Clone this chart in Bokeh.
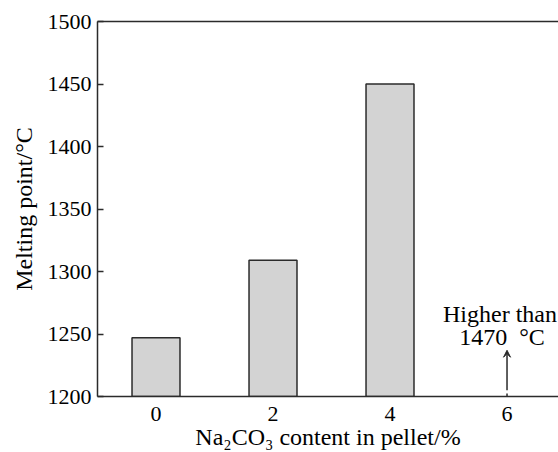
from bokeh.plotting import figure
from bokeh.models import Range1d, LinearAxis, FixedTicker, Arrow, VeeHead, Label
from bokeh.embed import file_html
from bokeh.resources import INLINE

na2co3 = [0, 2, 4]
melting = [1247, 1309, 1450]
x_ticks = [0, 2, 4, 6]
y_ticks = [1200, 1250, 1300, 1350, 1400, 1450, 1500]
note_x = 6
note_lines = ["Higher than", "1470\u2002°C"]

FONT = "Liberation Serif"
LC = "#2b2b2b"

p = figure(width=558, height=452, output_backend="svg", toolbar_location=None,
           x_range=Range1d(-1.0, 6.88), y_range=Range1d(1200, 1500),
           min_border_left=97, min_border_right=0, min_border_top=21, min_border_bottom=55)
p.outline_line_color = None
p.grid.grid_line_color = None
p.background_fill_color = "white"
p.border_fill_color = "white"

p.vbar(x=na2co3, top=melting, bottom=1200, width=0.82, fill_color="#d3d3d3",
       line_color=LC, line_width=1.5)

for ax in (p.xaxis[0], p.yaxis[0]):
    ax.axis_line_color = LC
    ax.axis_line_width = 1.5
    ax.major_tick_line_color = LC
    ax.major_tick_line_width = 1.5
    ax.major_tick_in = 6
    ax.major_tick_out = 0
    ax.minor_tick_line_color = None
    ax.major_label_text_font = FONT
    ax.major_label_text_font_size = "22px"
    ax.major_label_text_color = "black"
    ax.axis_label_text_font = FONT
    ax.axis_label_text_font_size = "24px"
    ax.axis_label_text_font_style = "normal"
    ax.axis_label_text_color = "black"

p.xaxis.ticker = FixedTicker(ticks=x_ticks)
p.xaxis.major_tick_line_color = None
p.yaxis.ticker = FixedTicker(ticks=y_ticks)
p.xaxis.major_label_standoff = 10
p.yaxis.major_label_standoff = 6
p.xaxis.axis_label = "Na₂CO₃ content in pellet/%"
p.xaxis.axis_label_standoff = 0
p.yaxis.axis_label = "Melting point/°C"
p.yaxis.axis_label_standoff = 8

top = LinearAxis(ticker=FixedTicker(ticks=[]), major_label_text_font_size="0px",
                 axis_line_color=LC, axis_line_width=1.5,
                 major_tick_line_color=None, minor_tick_line_color=None)
p.add_layout(top, "above")

p.segment(x0=[note_x], y0=[1200], x1=[note_x], y1=[1202.5], line_color=LC, line_width=1.5)
p.add_layout(Arrow(end=VeeHead(size=7, fill_color=LC, line_color=LC, line_width=1),
                   x_start=note_x, y_start=1205, x_end=note_x, y_end=1237,
                   line_color=LC, line_width=1.5))
p.add_layout(Label(x=note_x, y=1266, x_offset=-7, text=note_lines[0], text_font=FONT,
                   text_font_size="24px", text_align="center", text_baseline="alphabetic",
                   text_color="black"))
p.add_layout(Label(x=note_x, y=1247.5, x_offset=-5, text=note_lines[1], text_font=FONT,
                   text_font_size="24px", text_align="center", text_baseline="alphabetic",
                   text_color="black"))

open("out.html", "w").write(file_html(p, INLINE))
